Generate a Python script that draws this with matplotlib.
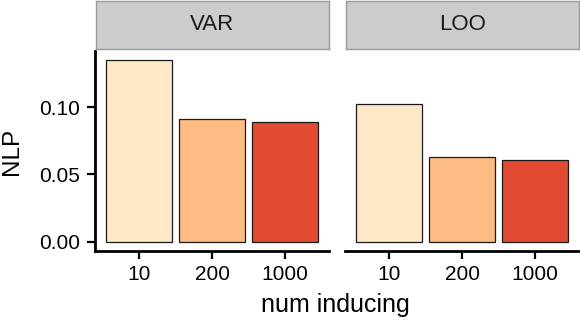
import numpy as np
import matplotlib.pyplot as plt

plt.rcParams['font.family'] = ['Liberation Sans', 'DejaVu Sans']

panels = ['VAR', 'LOO']
num_inducing = ['10', '200', '1000']
nlp = {
    'VAR': [0.1348, 0.0911, 0.0889],
    'LOO': [0.1022, 0.0630, 0.0607],
}
colors = ['#FEE8C8', '#FDBB84', '#E34A33']

fig = plt.figure(figsize=(5.8, 3.22), dpi=100)
W, H = 580.0, 322.0

ymax = max(max(v) for v in nlp.values())
ylo, yhi = -0.05 * ymax, 1.05 * ymax

lefts = [95, 345]
for k, name in enumerate(panels):
    x0 = lefts[k]
    ax = fig.add_axes([x0 / W, (H - 251) / H, 234 / W, 200 / H])
    xs = np.arange(1, 4)
    ax.bar(xs, nlp[name], width=0.9, color=colors, edgecolor='#1A1A1A', linewidth=0.9)
    ax.set_xlim(0.4, 3.6)
    ax.set_ylim(ylo, yhi)
    ax.set_xticks(xs)
    ax.set_xticklabels(num_inducing)
    for s in ['top', 'right']:
        ax.spines[s].set_visible(False)
    ax.spines['bottom'].set_linewidth(2.0)
    ax.tick_params(axis='x', length=5.5, width=1.6, labelsize=15, colors='black', pad=4.5)
    if k == 0:
        ax.spines['left'].set_linewidth(2.0)
        ax.set_yticks([0.0, 0.05, 0.10])
        ax.set_yticklabels(['0.00', '0.05', '0.10'])
        ax.tick_params(axis='y', length=5.5, width=1.6, labelsize=15, colors='black', pad=5)
    else:
        ax.spines['left'].set_visible(False)
        ax.set_yticks([])
    # strip
    sax = fig.add_axes([(x0 + 0.5) / W, (H - 49) / H, 233.5 / W, 48 / H])
    sax.set_facecolor('#CCCCCC')
    sax.set_xticks([])
    sax.set_yticks([])
    for s in sax.spines.values():
        s.set_color('#999999')
        s.set_linewidth(1.0)
    sax.text(0.5, 0.5, name, ha='center', va='center', fontsize=16,
             color='#1A1A1A', transform=sax.transAxes)

fig.text(12 / W, 1 - 151 / H, 'NLP', ha='center', va='center', rotation=90, fontsize=17.5)
fig.text(335 / W, 1 - 305 / H, 'num inducing', ha='center', va='center', fontsize=18)

fig.savefig('out.png', dpi=100)
